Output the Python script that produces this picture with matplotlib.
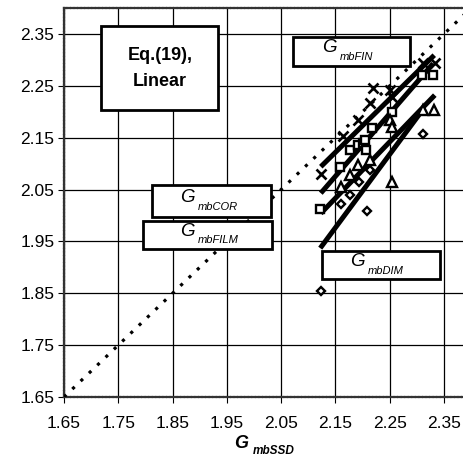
import numpy as np
import matplotlib
matplotlib.use("Agg")
import matplotlib.pyplot as plt
from matplotlib.patches import Rectangle

plt.rcParams['font.family'] = ['Liberation Sans', 'DejaVu Sans']

# ---- data ----
fin_x = [2.123, 2.164, 2.192, 2.214, 2.220, 2.250, 2.254, 2.312, 2.334]
fin_y = [2.080, 2.153, 2.184, 2.216, 2.245, 2.242, 2.229, 2.293, 2.293]

cor_x = [2.122, 2.158, 2.176, 2.192, 2.201, 2.207, 2.204, 2.217, 2.254, 2.309, 2.330]
cor_y = [2.012, 2.094, 2.126, 2.135, 2.140, 2.127, 2.145, 2.168, 2.200, 2.271, 2.271]

film_x = [2.161, 2.177, 2.192, 2.214, 2.250, 2.254, 2.254, 2.312, 2.332]
film_y = [2.055, 2.078, 2.097, 2.107, 2.184, 2.065, 2.171, 2.203, 2.203]

dim_x = [2.123, 2.161, 2.177, 2.194, 2.209, 2.214, 2.311]
dim_y = [1.855, 2.023, 2.040, 2.065, 2.009, 2.088, 2.158]

# linear trend lines (end points)
fin_line_x = [2.123, 2.332]
fin_line_y = [2.094, 2.309]
cor_line_x = [2.123, 2.330]
cor_line_y = [2.043, 2.293]
film_line_x = [2.123, 2.333]
film_line_y = [2.004, 2.232]
dim_line_x = [2.122, 2.313]
dim_line_y = [1.937, 2.207]

diag = [1.65, 2.40]
ticks = [1.65, 1.75, 1.85, 1.95, 2.05, 2.15, 2.25, 2.35]
tick_labels = ["1.65", "1.75", "1.85", "1.95", "2.05", "2.15", "2.25", "2.35"]

W, H = 464, 458
fig = plt.figure(figsize=(W / 100, H / 100), dpi=100)
ax = fig.add_axes([64 / W, 1 - 397 / H, (464 - 64) / W, (397 - 8) / H])

ax.set_xlim(1.65, 2.3868)
ax.set_ylim(1.65, 2.40)
ax.set_xticks(ticks)
ax.set_yticks(ticks)
ax.set_xticklabels(tick_labels)
ax.set_yticklabels(tick_labels)
ax.tick_params(axis='x', length=4, width=0.8, pad=10, labelsize=12.5)
ax.tick_params(axis='y', length=4, width=0.8, pad=3, labelsize=12.5)
ax.grid(True, color='black', linewidth=0.9)
ax.set_axisbelow(True)
for s in ['top', 'left', 'bottom']:
    ax.spines[s].set_linestyle((0, (1, 0.6)))
    ax.spines[s].set_linewidth(1.6)
    ax.spines[s].set_color('#333333')
ax.spines['right'].set_visible(False)

# y = x dotted line
ax.plot(diag, diag, color='black', lw=2.3, linestyle=(0, (1, 2.6)), zorder=3)

# trend lines
for lx, ly in [(fin_line_x, fin_line_y), (cor_line_x, cor_line_y),
               (film_line_x, film_line_y), (dim_line_x, dim_line_y)]:
    ax.plot(lx, ly, color='black', lw=3.6, solid_capstyle='butt', zorder=4)

mk = dict(linestyle='none', color='black', markerfacecolor='white', zorder=5)
ax.plot(fin_x, fin_y, marker='x', markersize=7, markeredgewidth=1.9, **mk)
ax.plot(cor_x, cor_y, marker='s', markersize=5.5, markeredgewidth=1.7, **mk)
ax.plot(film_x, film_y, marker='^', markersize=6.5, markeredgewidth=1.7, **mk)
ax.plot(dim_x, dim_y, marker='D', markersize=4.5, markeredgewidth=1.7, **mk)


def F(px, py):
    return px / W, 1 - py / H


def box(x0, y0, x1, y1, lw=2.0):
    fx, fy = F(x0, y1)
    r = Rectangle((fx, fy), (x1 - x0) / W, (y1 - y0) / H, transform=fig.transFigure,
                  facecolor='white', edgecolor='black', linewidth=lw, zorder=10)
    fig.add_artist(r)


def glabel(gx, gy, sub, size=13.5, subsize=8, weight='normal'):
    fig.text(*F(gx, gy), 'G', fontsize=size, style='italic', weight=weight,
             ha='center', va='center', zorder=11)
    fig.text(*F(gx + 11, gy + 9), sub, fontsize=subsize, style='italic', weight=weight,
             ha='left', va='center', zorder=11)


# Eq box
box(101, 26, 218, 110)
fig.text(*F(160, 55), 'Eq.(19),', fontsize=13, weight='bold', ha='center', va='center', zorder=11)
fig.text(*F(160, 81), 'Linear', fontsize=13, weight='bold', ha='center', va='center', zorder=11)

box(152, 185, 271, 217)
glabel(187, 198, 'mbCOR')

box(143, 221, 272, 249)
glabel(187, 231, 'mbFILM')

box(293, 37, 410, 66)
glabel(329, 48, 'mbFIN')

box(322, 251, 440, 279)
glabel(357, 262, 'mbDIM')

# x-axis label
fig.text(*F(241, 443), 'G', fontsize=13, style='italic', weight='bold', ha='center', va='center')
fig.text(*F(253, 451), 'mbSSD', fontsize=8.5, style='italic', weight='bold', ha='left', va='center')

fig.savefig('out.png', dpi=100)
